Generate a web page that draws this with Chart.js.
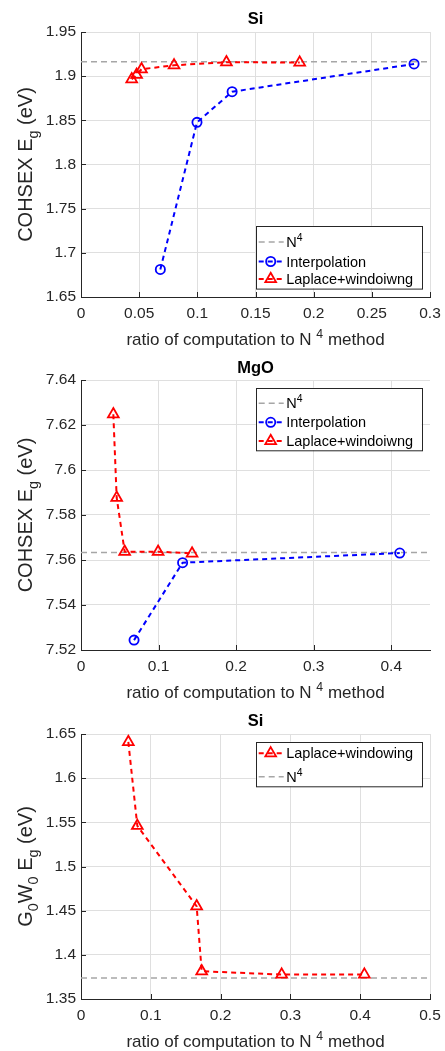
<!DOCTYPE html>
<html><head><meta charset="utf-8">
<script src="https://cdn.jsdelivr.net/npm/chart.js@4.4.0/dist/chart.umd.min.js"></script>
<style>
html,body{margin:0;padding:0;background:#fff;width:445px;height:1051px;overflow:hidden}
.c{position:absolute;left:0;width:445px}
canvas{display:block}
</style></head><body>
<div class="c" style="top:0;height:350px"><canvas id="c1" width="445" height="350"></canvas></div>
<div class="c" style="top:350px;height:350px"><canvas id="c2" width="445" height="350"></canvas></div>
<div class="c" style="top:700px;height:351px"><canvas id="c3" width="445" height="351"></canvas></div>
<script>
// ---------- data ----------
const siX_interp = [0.0682, 0.0997, 0.1299, 0.2863];
const siY_interp = [1.6812, 1.8477, 1.8824, 1.9138];
const siX_lap = [0.0436, 0.0478, 0.0520, 0.0800, 0.1250, 0.1880];
const siY_lap = [1.8965, 1.9015, 1.9079, 1.9123, 1.9158, 1.9154];
const siN4 = 1.9163;
const siXRange = [0, 0.3];
const siYRange = [1.65, 1.95];
const siXTicks = [0, 0.05, 0.1, 0.15, 0.2, 0.25, 0.3];
const siYTicks = [1.65, 1.7, 1.75, 1.8, 1.85, 1.9, 1.95];

const mgoX_interp = [0.0684, 0.131, 0.411];
const mgoY_interp = [7.5244, 7.5588, 7.5631];
const mgoX_lap = [0.0417, 0.046, 0.0563, 0.0994, 0.1432];
const mgoY_lap = [7.6248, 7.5877, 7.5637, 7.5637, 7.5629];
const mgoN4 = 7.5633;
const mgoXRange = [0, 0.45];
const mgoYRange = [7.52, 7.64];
const mgoXTicks = [0, 0.1, 0.2, 0.3, 0.4];
const mgoYTicks = [7.52, 7.54, 7.56, 7.58, 7.6, 7.62, 7.64];

const gwX_lap = [0.0678, 0.0807, 0.1657, 0.1729, 0.2875, 0.406];
const gwY_lap = [1.641, 1.546, 1.455, 1.3814, 1.3777, 1.3777];
const gwN4 = 1.3737;
const gwXRange = [0, 0.5];
const gwYRange = [1.35, 1.65];
const gwXTicks = [0, 0.1, 0.2, 0.3, 0.4, 0.5];
const gwYTicks = [1.35, 1.4, 1.45, 1.5, 1.55, 1.6, 1.65];

// ---------- styling ----------
const FONT = "'Liberation Sans', Arial, Helvetica, sans-serif";
const TXT = '#262626';
const GRID = '#dfdfdf';
const BLUE = '#0000ff';
const RED = '#ff0000';
const GRAY = '#a6a6a6';
const TICK_SIZE = 15.5;
const XLAB_SIZE = 17;
const YLAB_SIZE = 20;

function pts(xs, ys) { return xs.map((x, i) => ({x: x, y: ys[i]})); }
function fmt(v) { return String(+(+v).toFixed(4)); }

const STY = {
  n4: {color: GRAY, dash: [6, 4], width: 1.5, marker: null},
  interp: {color: BLUE, dash: [5, 4], width: 2, marker: 'circle', r: 4.6},
  lap: {color: RED, dash: [5, 4], width: 2, marker: 'triangle', r: 6.2}
};

function ds(kind, data, order) {
  const s = STY[kind];
  return {
    data: data, showLine: true, borderColor: s.color, borderWidth: s.width,
    borderDash: s.dash, order: order,
    pointStyle: s.marker || 'circle', pointRadius: s.marker ? s.r : 0,
    pointHoverRadius: s.marker ? s.r : 0,
    pointBorderColor: s.color, pointBackgroundColor: 'rgba(0,0,0,0)',
    pointBorderWidth: 1.8, clip: false
  };
}

function drawRich(ctx, parts, size, cx, y) {
  const small = size * 0.72;
  let w = 0;
  const m = parts.map(p => {
    const fs = p[1] === 'n' ? size : small;
    ctx.font = fs + 'px ' + FONT;
    const pw = ctx.measureText(p[0]).width;
    w += pw;
    return {t: p[0], fs: fs, w: pw, mode: p[1]};
  });
  let x = cx - w / 2;
  m.forEach(p => {
    ctx.font = p.fs + 'px ' + FONT;
    const dy = p.mode === 'sub' ? size * 0.3 : (p.mode === 'sup' ? -size * 0.42 : 0);
    ctx.fillText(p.t, x, y + dy);
    x += p.w;
  });
}
function drawRichLeft(ctx, parts, size, x, y) {
  const small = size * 0.72;
  parts.forEach(p => {
    const fs = p[1] === 'n' ? size : small;
    ctx.font = fs + 'px ' + FONT;
    const dy = p[1] === 'sub' ? size * 0.3 : (p[1] === 'sup' ? -size * 0.42 : 0);
    ctx.fillText(p[0], x, y + dy);
    x += ctx.measureText(p[0]).width;
  });
}

function marker(ctx, style, x, y, r, color) {
  ctx.save();
  ctx.strokeStyle = color;
  ctx.lineWidth = 1.8;
  ctx.setLineDash([]);
  ctx.beginPath();
  if (style === 'circle') {
    ctx.arc(x, y, r, 0, Math.PI * 2);
  } else if (style === 'triangle') {
    ctx.moveTo(x, y - r);
    ctx.lineTo(x + 0.866 * r, y + 0.5 * r);
    ctx.lineTo(x - 0.866 * r, y + 0.5 * r);
    ctx.closePath();
  }
  ctx.stroke();
  ctx.restore();
}

function decorPlugin(cfg) {
  return {
    id: 'decor',
    afterDraw(chart) {
      const ctx = chart.ctx;
      const a = chart.chartArea;
      const xs = chart.scales.x, ys = chart.scales.y;
      ctx.save();
      // inward ticks
      ctx.strokeStyle = TXT; ctx.lineWidth = 1; ctx.setLineDash([]);
      ctx.beginPath();
      xs.ticks.forEach(t => {
        const px = Math.round(xs.getPixelForValue(t.value)) + 0.5;
        ctx.moveTo(px, a.bottom); ctx.lineTo(px, a.bottom - 5);
      });
      ys.ticks.forEach(t => {
        const py = Math.round(ys.getPixelForValue(t.value)) + 0.5;
        ctx.moveTo(a.left, py); ctx.lineTo(a.left + 5, py);
      });
      ctx.stroke();
      // title
      ctx.fillStyle = '#000';
      ctx.textAlign = 'center'; ctx.textBaseline = 'alphabetic';
      ctx.font = 'bold 16.5px ' + FONT;
      ctx.fillText(cfg.title, (a.left + a.right) / 2, cfg.titleY);
      // x label
      ctx.fillStyle = TXT;
      ctx.textAlign = 'left';
      drawRich(ctx, [['ratio of computation to N ', 'n'], ['4', 'sup'], [' method', 'n']], XLAB_SIZE,
        (a.left + a.right) / 2, cfg.xLabelY);
      // y label
      ctx.save();
      ctx.translate(cfg.yLabelX, (a.top + a.bottom) / 2);
      ctx.rotate(-Math.PI / 2);
      drawRich(ctx, cfg.yLabel, YLAB_SIZE, 0, 0);
      ctx.restore();
      // legend
      const L = cfg.legend;
      ctx.fillStyle = '#fff';
      ctx.fillRect(L.x, L.y, L.w, L.h);
      ctx.strokeStyle = TXT; ctx.lineWidth = 1;
      ctx.strokeRect(Math.round(L.x) + 0.5, Math.round(L.y) + 0.5, L.w, L.h);
      L.items.forEach((it, i) => {
        const s = STY[it.kind];
        const by = L.y + L.rows[i];
        const ly = by - 5;
        ctx.save();
        ctx.strokeStyle = s.color; ctx.lineWidth = s.width;
        ctx.setLineDash(s.dash);
        ctx.beginPath(); ctx.moveTo(L.x + 3, ly); ctx.lineTo(L.x + 28, ly); ctx.stroke();
        ctx.restore();
        if (s.marker) marker(ctx, s.marker, L.x + 15, ly, s.r, s.color);
        ctx.fillStyle = '#000';
        ctx.textAlign = 'left';
        drawRichLeft(ctx, it.label, 14.5, L.x + 30.5, by);
      });
      ctx.restore();
    }
  };
}

function makeChart(id, datasets, xr, yr, xt, yt, plotTop, plotBottom, h, cfg) {
  const tickFont = {family: FONT, size: TICK_SIZE};
  return new Chart(document.getElementById(id), {
    type: 'scatter',
    data: {datasets: datasets},
    options: {
      responsive: false, animation: false, devicePixelRatio: 1,
      layout: {padding: {top: plotTop, left: 0, right: 15, bottom: 0}},
      plugins: {legend: {display: false}, tooltip: {enabled: false}},
      scales: {
        x: {
          type: 'linear', min: xr[0], max: xr[1],
          afterBuildTicks: s => { s.ticks = xt.map(v => ({value: v})); },
          afterFit: s => { s.height = h - plotBottom; s.paddingLeft = 0; s.paddingRight = 0; },
          grid: {color: GRID, lineWidth: 1, drawTicks: false},
          border: {display: true, color: TXT, width: 1},
          ticks: {color: TXT, font: tickFont, padding: 7, maxRotation: 0, autoSkip: false,
            callback: v => fmt(v)}
        },
        y: {
          type: 'linear', min: yr[0], max: yr[1],
          afterBuildTicks: s => { s.ticks = yt.map(v => ({value: v})); },
          afterFit: s => { s.width = 81; s.paddingTop = 0; s.paddingBottom = 0; },
          grid: {color: GRID, lineWidth: 1, drawTicks: false},
          border: {display: true, color: TXT, width: 1},
          ticks: {color: TXT, font: tickFont, padding: 5, autoSkip: false,
            callback: v => fmt(v)}
        }
      }
    },
    plugins: [decorPlugin(cfg)]
  });
}

const yLabCOH = [['COHSEX E', 'n'], ['g', 'sub'], [' (eV)', 'n']];
const yLabGW = [['G', 'n'], ['0', 'sub'], ['W', 'n'], ['0', 'sub'], [' E', 'n'], ['g', 'sub'], [' (eV)', 'n']];
const labN4 = [['N', 'n'], ['4', 'sup']];

makeChart('c1', [
  ds('lap', pts(siX_lap, siY_lap), 1),
  ds('interp', pts(siX_interp, siY_interp), 2),
  ds('n4', [{x: siXRange[0], y: siN4}, {x: siXRange[1], y: siN4}], 3)
], siXRange, siYRange, siXTicks, siYTicks, 32, 297, 350, {
  title: 'Si', titleY: 23.5, xLabelY: 345, yLabelX: 31.5, yLabel: yLabCOH,
  legend: {x: 255.7, y: 225.7, w: 166, h: 62.6, rows: [21.3, 40.8, 58.3], items: [
    {kind: 'n4', label: labN4},
    {kind: 'interp', label: [['Interpolation', 'n']]},
    {kind: 'lap', label: [['Laplace+windoiwng', 'n']]}
  ]}
});

makeChart('c2', [
  ds('lap', pts(mgoX_lap, mgoY_lap), 1),
  ds('interp', pts(mgoX_interp, mgoY_interp), 2),
  ds('n4', [{x: mgoXRange[0], y: mgoN4}, {x: mgoXRange[1], y: mgoN4}], 3)
], mgoXRange, mgoYRange, mgoXTicks, mgoYTicks, 30, 300, 350, {
  title: 'MgO', titleY: 22.5, xLabelY: 348, yLabelX: 31.5, yLabel: yLabCOH,
  legend: {x: 255.7, y: 37.7, w: 166, h: 62.3, rows: [20.6, 39.6, 58.3], items: [
    {kind: 'n4', label: labN4},
    {kind: 'interp', label: [['Interpolation', 'n']]},
    {kind: 'lap', label: [['Laplace+windoiwng', 'n']]}
  ]}
});

makeChart('c3', [
  ds('lap', pts(gwX_lap, gwY_lap), 1),
  ds('n4', [{x: gwXRange[0], y: gwN4}, {x: gwXRange[1], y: gwN4}], 3)
], gwXRange, gwYRange, gwXTicks, gwYTicks, 34, 299, 351, {
  title: 'Si', titleY: 26, xLabelY: 347, yLabelX: 31.5, yLabel: yLabGW,
  legend: {x: 255.7, y: 41.7, w: 166, h: 44.3, rows: [16.6, 40], items: [
    {kind: 'lap', label: [['Laplace+windowing', 'n']]},
    {kind: 'n4', label: labN4}
  ]}
});
</script>
</body></html>
